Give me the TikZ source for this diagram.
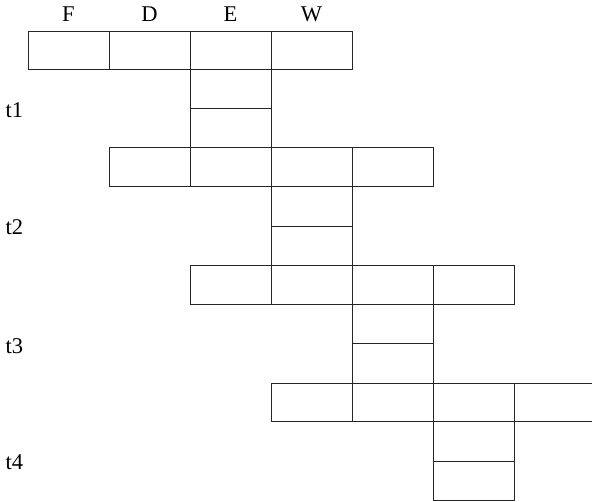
\documentclass[tikz,border=0pt]{standalone}
\usepackage{fontspec}
\setmainfont{Liberation Serif}
\begin{document}
\begin{tikzpicture}[x=1pt,y=-1pt,
  cell/.style={draw=black!85,line width=0.8pt,rectangle,inner sep=0pt,outer sep=0pt,minimum width=81pt,minimum height=#1},
  cell/.default=38.5pt,
  opencell/.style={rectangle,inner sep=0pt,outer sep=0pt,minimum width=78pt,minimum height=38.5pt},
  lbl/.style={font=\fontsize{22.5}{26}\selectfont,inner sep=0pt,anchor=base},
  tlbl/.style={font=\fontsize{22.5}{26}\selectfont,inner sep=0pt,anchor=base west}]
\useasboundingbox (0,0) rectangle (592,502);
% header labels
\node[lbl] (lF) at (68.5,22) {F};
\node[lbl] (lD) at (149.5,22) {D};
\node[lbl] (lE) at (230.5,22) {E};
\node[lbl] (lW) at (311.5,22) {W};
% row 1 : 31 -- 69
\node[cell=38pt] (a1) at (68.5,50) {};
\node[cell=38pt] (a2) at (149.5,50) {};
\node[cell=38pt] (a3) at (230.5,50) {};
\node[cell=38pt] (a4) at (311.5,50) {};
\node[cell=39pt] (v1a) at (230.5,88.5) {};
\node[cell=39.5pt] (v1b) at (230.5,127.75) {};
\node[tlbl] (t1) at (5.5,118) {t1};
% row 2 : 147.5 -- 186.5
\node[cell=39pt] (b1) at (149.5,167) {};
\node[cell=39pt] (b2) at (230.5,167) {};
\node[cell=39pt] (b3) at (311.5,167) {};
\node[cell=39pt] (b4) at (392.5,167) {};
\node[cell=39.5pt] (v2a) at (311.5,206.25) {};
\node[cell=39.5pt] (v2b) at (311.5,245.75) {};
\node[tlbl] (t2) at (5.5,235) {t2};
% row 3 : 265.5 -- 304.5
\node[cell=39pt] (c1) at (230.5,285) {};
\node[cell=39pt] (c2) at (311.5,285) {};
\node[cell=39pt] (c3) at (392.5,285) {};
\node[cell=39pt] (c4) at (473.5,285) {};
\node[cell=39pt] (v3a) at (392.5,324) {};
\node[cell=39.5pt] (v3b) at (392.5,363.25) {};
\node[tlbl] (t3) at (5.5,353.3) {t3};
% row 4 : 383 -- 421.5
\node[cell] (d1) at (311.5,402.25) {};
\node[cell] (d2) at (392.5,402.25) {};
\node[cell] (d3) at (473.5,402.25) {};
\node[opencell] (d4) at (553,402.25) {};
\draw[draw=black!85,line width=0.8pt] (d4.north east) -- (d4.north west) -- (d4.south west) -- (d4.south east);
\node[cell=39.5pt] (v4a) at (473.5,441.25) {};
\node[cell=39pt] (v4b) at (473.5,480.5) {};
\node[tlbl] (t4) at (5.5,469.5) {t4};
\end{tikzpicture}
\end{document}
